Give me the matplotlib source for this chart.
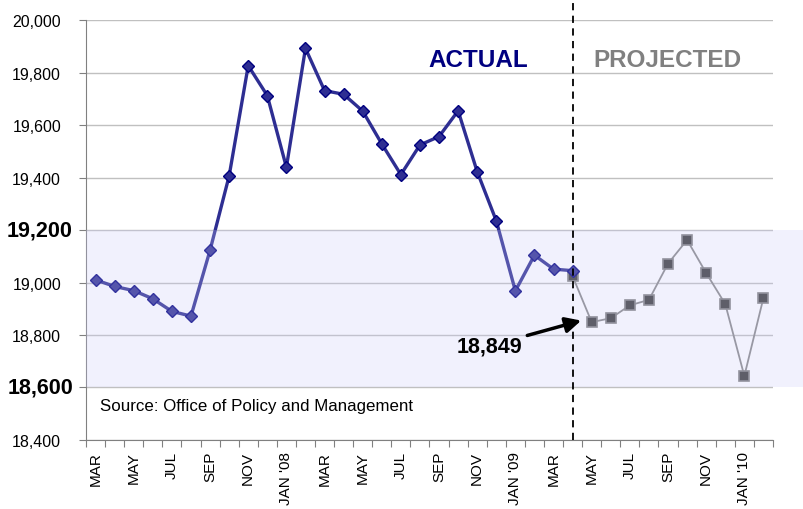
import matplotlib.pyplot as plt
from matplotlib.patches import Rectangle
from matplotlib.transforms import blended_transform_factory

plt.rcParams['font.family'] = ['Liberation Sans', 'DejaVu Sans']

# monthly values, MAR '07 .. APR '09 (actual) and APR '09 .. FEB '10 (projected)
actual = [19010, 18985, 18969, 18938, 18890, 18872, 19123, 19406, 19826, 19712,
          19439, 19892, 19731, 19717, 19653, 19528, 19411, 19524, 19556, 19654,
          19422, 19235, 18968, 19104, 19051, 19045]
projected = [19024, 18849, 18864, 18913, 18934, 19072, 19162, 19036, 18918,
             18644, 18941]
tick_labels = ['MAR', 'MAY', 'JUL', 'SEP', 'NOV', "JAN '08", 'MAR', 'MAY', 'JUL',
               'SEP', 'NOV', "JAN '09", 'MAR', 'MAY', 'JUL', 'SEP', 'NOV', "JAN '10"]
n_months = 36
band_lo, band_hi = 18600, 19200
split = len(actual) - 1

fig = plt.figure(figsize=(8.04, 5.10), dpi=100)
ax = fig.add_axes([0.107, 0.1353, 0.8544, 0.8235])

x_act = list(range(len(actual)))
x_proj = list(range(split, split + len(projected)))

ax.plot(x_act, actual, color='#2e2e92', lw=2.4, marker='D', ms=6.5,
        mfc='#2e2e92', mec='#000080', mew=1, zorder=4)
ax.plot(x_proj, projected, color='#888888', lw=1.3, marker='s', ms=6.5,
        mfc='#3a3a3a', mec='#808080', mew=1.2, zorder=3)

# shaded band drawn over the lines, reaching past the right edge
tr = blended_transform_factory(ax.transAxes, ax.transData)
ax.add_patch(Rectangle((0, band_lo), 1.046, band_hi - band_lo, transform=tr,
                       facecolor='#cacaf8', alpha=0.25, edgecolor='none',
                       clip_on=False, zorder=5))

ax.axvline(split, ymin=0, ymax=1.06, color='black', ls=(0, (4, 3)), lw=1.3,
           clip_on=False, zorder=6)

ax.set_xlim(-0.5, n_months - 0.5)
ax.set_ylim(18400, 20000)
yvals = list(range(18400, 20001, 200))
ax.set_yticks(yvals)
ax.set_yticklabels(['' if v in (band_lo, band_hi) else f'{v:,}' for v in yvals],
                   fontsize=11.5)
for v in (band_lo, band_hi):
    ax.text(-0.019, v, f'{v:,}', transform=tr, ha='right', va='center',
            fontsize=15.5, fontweight='bold')

ax.set_xticks([i - 0.5 for i in range(n_months + 1)])
ax.set_xticklabels([])
ax.set_xticks(range(0, n_months - 1, 2), minor=True)
ax.set_xticklabels(tick_labels, minor=True, rotation=90, fontsize=11)
ax.tick_params(axis='x', which='minor', length=0, pad=8)
ax.tick_params(axis='x', which='major', length=5, color='#808080')
ax.tick_params(axis='y', length=5, color='#808080', pad=13)

ax.grid(axis='y', color='#c0c0c0', lw=1)
ax.set_axisbelow(True)
for s in ('top', 'right'):
    ax.spines[s].set_visible(False)
for s in ('left', 'bottom'):
    ax.spines[s].set_color('#808080')

ax.text(20.05, 19851, 'ACTUAL', color='#000080', fontsize=17.5,
        fontweight='bold', ha='center', va='center', zorder=7)
ax.text(29.95, 19851, 'PROJECTED', color='#808080', fontsize=17.5,
        fontweight='bold', ha='center', va='center', zorder=7)
ax.text(0.25, 18530, 'Source: Office of Policy and Management', fontsize=12.2,
        ha='left', va='center', zorder=7)
ax.annotate('18,849', xy=(25.45, 18855), xytext=(20.62, 18758),
            fontsize=15.5, fontweight='bold', ha='center', va='center',
            arrowprops=dict(arrowstyle='-|>,head_length=0.6,head_width=0.3',
                            color='black', lw=2.5, shrinkA=2, shrinkB=0),
            zorder=7)

fig.savefig('out.png', dpi=100)
